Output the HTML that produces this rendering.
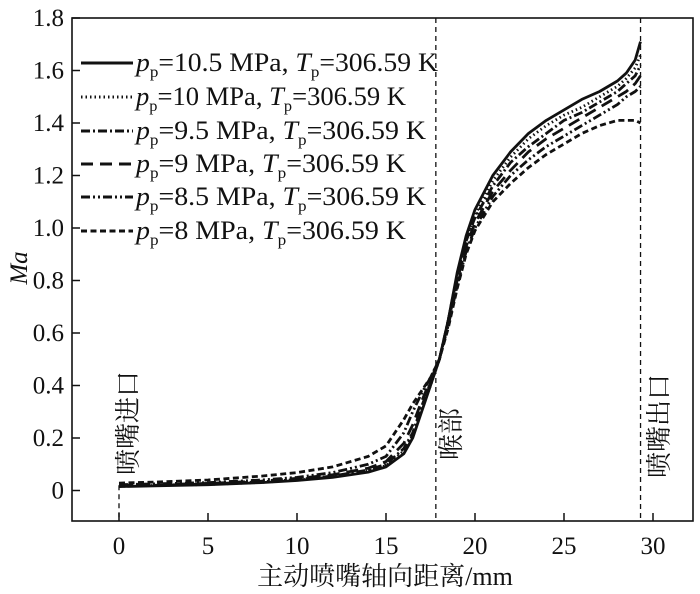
<!DOCTYPE html>
<html><head><meta charset="utf-8"><style>
body{margin:0;background:#fff}
svg{display:block}
text{font-family:"Liberation Serif","Noto Serif CJK SC",serif;fill:#111}
</style></head><body>
<svg id="chart" width="700" height="594" font-family="'Liberation Serif','Noto Serif CJK SC',serif">
<rect x="72" y="18" width="621" height="503" fill="none" stroke="#111" stroke-width="1.6"/>
<g id="axes"></g>
<g id="series"></g>
<g id="legend"></g>
<text x="385" y="585" font-size="26" text-anchor="middle">主动喷嘴轴向距离/mm</text>
<text transform="translate(27,268) rotate(-90)" font-size="25" font-style="italic" text-anchor="middle">Ma</text>
<text transform="translate(137,475) rotate(-90)" font-size="26">喷嘴进口</text>
<text transform="translate(460,460) rotate(-90)" font-size="26">喉部</text>
<text transform="translate(668,478) rotate(-90)" font-size="26">喷嘴出口</text>
</svg>
<script>
const xs=[0,2,5,8,10,12,14,15,16,16.5,17,17.5,18,18.5,19,19.5,20,21,22,23,24,25,26,27,28,28.5,29,29.3];
const s105=[0.015,0.018,0.022,0.03,0.038,0.05,0.07,0.09,0.14,0.2,0.3,0.4,0.5,0.65,0.83,0.97,1.07,1.2,1.29,1.36,1.41,1.45,1.49,1.52,1.56,1.59,1.64,1.71];
const s10=[0.016,0.019,0.023,0.031,0.04,0.052,0.074,0.095,0.15,0.21,0.31,0.4,0.5,0.65,0.82,0.96,1.05,1.18,1.27,1.34,1.39,1.43,1.46,1.5,1.54,1.57,1.61,1.66];
const s95=[0.018,0.02,0.025,0.033,0.042,0.055,0.078,0.1,0.16,0.22,0.32,0.41,0.5,0.65,0.82,0.95,1.04,1.16,1.25,1.31,1.36,1.41,1.44,1.48,1.52,1.55,1.58,1.62];
const s9=[0.02,0.022,0.027,0.036,0.046,0.06,0.085,0.11,0.18,0.25,0.34,0.42,0.5,0.64,0.8,0.93,1.02,1.14,1.22,1.29,1.34,1.38,1.42,1.46,1.5,1.52,1.55,1.58];
const s85=[0.022,0.025,0.03,0.04,0.05,0.068,0.1,0.13,0.22,0.3,0.37,0.43,0.5,0.63,0.78,0.91,1.0,1.12,1.2,1.26,1.31,1.35,1.39,1.43,1.47,1.5,1.52,1.54];
const s8=[0.028,0.032,0.04,0.055,0.068,0.09,0.13,0.17,0.27,0.33,0.38,0.43,0.5,0.62,0.77,0.9,0.99,1.1,1.17,1.23,1.28,1.32,1.36,1.39,1.41,1.41,1.41,1.4];
const seriesNames=["10.5","10","9.5","9","8.5","8"];
const xTicks=[0,5,10,15,20,25,30];
const yTicks=[0,0.2,0.4,0.6,0.8,1.0,1.2,1.4,1.6,1.8];
const yTickLabels=["0","0.2","0.4","0.6","0.8","1.0","1.2","1.4","1.6","1.8"];
const markers=[0,17.8,29.3];

const NS="http://www.w3.org/2000/svg";
const X=v=>119+v*(653-119)/30;
const Y=v=>490.5-v*262.5;
function mk(tag,attrs,parent){const e=document.createElementNS(NS,tag);for(const k in attrs)e.setAttribute(k,attrs[k]);parent.appendChild(e);return e;}
const ax=document.getElementById('axes');
xTicks.forEach(t=>{
 const l=mk('line',{x1:X(t),x2:X(t),y1:521,y2:513,stroke:'#111','stroke-width':1.5},ax);
 
 
 const tx=mk('text',{x:X(t),y:554,'font-size':25,'text-anchor':'middle'},ax);
 tx.textContent=t;
 
 
});
yTicks.forEach((t,i)=>{
 const l=mk('line',{x1:72,x2:80,y1:Y(t),y2:Y(t),stroke:'#111','stroke-width':1.5},ax);
 
 
 const tx=mk('text',{x:64,y:Y(t)+8,'font-size':25,'text-anchor':'end'},ax);
 tx.textContent=yTickLabels[i];
 
 
});
markers.forEach(m=>{
 const l=mk('line',{x1:X(m),x2:X(m),y1:18,y2:521,stroke:'#111','stroke-width':1.3,'stroke-dasharray':'5 4'},ax);
 if(m===0){l.setAttribute('y1',Y(0.02));}
 
 
});
const data=[s105,s10,s95,s9,s85,s8];
const dashes=['', '1.5 3', '9 3 2 3', '12 7', '9 3 2 3 2 3', '6 3.5'];
const sg=document.getElementById('series');
data.forEach((arr,i)=>{
 const d=arr.map((v,j)=>(j?'L':'M')+X(xs[j]).toFixed(1)+','+Y(v).toFixed(1)).join('');
 const p=mk('path',{d:d,fill:'none',stroke:'#111','stroke-width':2.8,'stroke-dasharray':dashes[i],'stroke-linejoin':'round'},sg);
 
 
});
const lg=document.getElementById('legend');
const rows=[63,97,131,164,197,231];
seriesNames.forEach((n,i)=>{
 const l=mk('line',{x1:81,x2:133,y1:rows[i],y2:rows[i],stroke:'#111','stroke-width':3,'stroke-dasharray':dashes[i]},lg);
 
 
 const t=mk('text',{x:136,y:rows[i]+8,'font-size':26,textLength:(i===0?302:(i===1||i===3||i===5?270:290)),lengthAdjust:'spacingAndGlyphs'},lg);
 t.innerHTML='<tspan font-style="italic">p</tspan><tspan font-size="16" dy="6">p</tspan><tspan dy="-6">='+n+' MPa, </tspan><tspan font-style="italic">T</tspan><tspan font-size="16" dy="6">p</tspan><tspan dy="-6">=306.59 K</tspan>';
 
 
});
</script>
</body></html>
